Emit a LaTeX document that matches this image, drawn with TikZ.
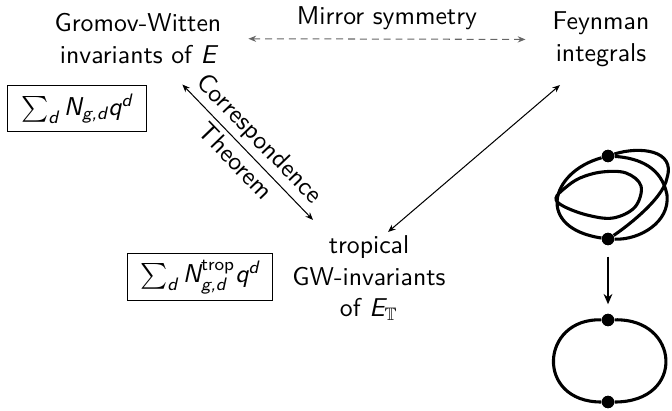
\documentclass[tikz,border=0pt]{standalone}
\usepackage{amsmath,amssymb}
\usetikzlibrary{arrows.meta,calc}
\newcommand{\vi}[1]{\textit{#1}}
\begin{document}
\begin{tikzpicture}[x=0.388pt,y=-0.388pt,
  font=\sffamily\fontsize{10}{12.4}\selectfont,
  txt/.style={align=center,inner sep=3.33pt},
  sumbox/.style={draw,thin,inner sep=0pt},
  thinarrow/.style={thin,{Stealth[length=3pt,width=2.4pt]}-{Stealth[length=3pt,width=2.4pt]}},
  mirror/.style={thinarrow,draw=black!60,dash pattern=on 2.7pt off 1.9pt},
  graphedge/.style={line width=1.2pt},
  vtx/.style={circle,fill,inner sep=0pt,minimum size=4.8pt},
  lbl/.style={sloped,inner sep=1.8pt,text=black}]
\useasboundingbox (0,0) rectangle (672,411);

% text nodes
\node[txt] (gw) at (138,38.5) {Gromov-Witten\\invariants of $\vi{E}$};
\node[txt] (feyn) at (601,39.6) {Feynman\\integrals};
\node[txt] (trop) at (369,278) {tropical\\GW-invariants\\of $\vi{E}_{\mathbb{T}}$};

% boxes
\node[sumbox,minimum width=54.3pt,minimum height=17.5pt] (box1) at (77,108.5)
  {$\sum_{\vi{d}} \vi{N}_{\vi{g,d}}\vi{q}^{\vi{d}}$};
\node[sumbox,minimum width=56.6pt,minimum height=17.9pt] (box2) at (200,277)
  {$\sum_{\vi{d}} \vi{N}^{\text{trop}}_{\vi{g,d}}\vi{q}^{\vi{d}}$};

% connectors
\draw[mirror,shorten <=7pt,shorten >=7pt] (gw) -- (feyn)
  node[midway,above,text=black] (mirlbl) {Mirror symmetry};
\draw[thinarrow,shorten <=24.8pt,shorten >=31.3pt] (gw.center) -- (trop.center)
  node[lbl,pos=0.47,above] (corr) {Correspondence}
  node[lbl,pos=0.47,below] (thm) {Theorem};
\draw[thinarrow] ($(trop.center)+(19,-46)$) -- ($(feyn.center)+(-41,45.4)$);

% graphs
\node[vtx] (t1) at (608,156) {};
\node[vtx] (b1) at (608,239) {};
\node[vtx] (t2) at (608,320) {};
\node[vtx] (b2) at (608,402) {};

\draw[graphedge] (t1) .. controls (550,172) and (535,228) .. (b1);
\draw[graphedge] (t1) .. controls (640,146) and (676,150) .. (667,178)
  .. controls (663,200) and (622,230) .. (b1);
\draw[graphedge] (t1) .. controls (640,158) and (662,168) .. (667,195)
  .. controls (670,222) and (640,240) .. (b1);
\draw[graphedge] plot[smooth cycle,tension=0.6] coordinates
  {(641,186) (635,207) (613,218) (587,215) (563,206) (556,198) (565,188) (580,178) (602,172) (626,173)};

\draw[graphedge] (t2) .. controls (540,318) and (535,402) .. (b2);
\draw[graphedge] (t2) .. controls (680,318) and (686,402) .. (b2);

\draw[line width=0.8pt,-{Stealth[length=4pt,width=3.4pt]},shorten <=4.2pt,shorten >=3.5pt] (b1) -- (t2);

\node[vtx] at (t1) {};
\node[vtx] at (b1) {};
\node[vtx] at (t2) {};
\node[vtx] at (b2) {};
\end{tikzpicture}
\end{document}
